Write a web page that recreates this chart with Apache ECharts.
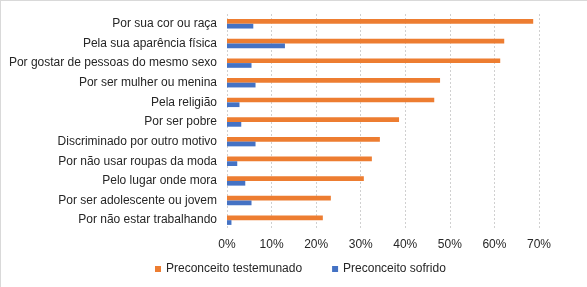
<!DOCTYPE html>
<html lang="pt">
<head>
  <meta charset="UTF-8">
  <script src="https://cdn.jsdelivr.net/npm/echarts@6.0.0/dist/echarts.min.js"></script>
  <style>
    html, body { margin: 0; padding: 0; background: #fff; }
    #chart { width: 587px; height: 287px; box-sizing: border-box; border-top: 1px solid #d9d9d9; border-left: 1px solid #d9d9d9; }
  </style>
</head>
<body>
  <div id="chart"></div>

  <script type="text/javascript">

    var categories = [
      'Por sua cor ou raça',
      'Pela sua aparência física',
      'Por gostar de pessoas do mesmo sexo',
      'Por ser mulher ou menina',
      'Pela religião',
      'Por ser pobre',
      'Discriminado por outro motivo',
      'Por não usar roupas da moda',
      'Pelo lugar onde mora',
      'Por ser adolescente ou jovem',
      'Por não estar trabalhando'
    ];
    var testemunado = [68.7, 62.2, 61.3, 47.8, 46.5, 38.6, 34.3, 32.5, 30.7, 23.3, 21.5];
    var sofrido = [5.9, 13.0, 5.5, 6.4, 2.8, 3.2, 6.4, 2.3, 4.1, 5.5, 1.0];
    var tickValues = [0, 10, 20, 30, 40, 50, 60, 70];

    var fontName = 'Liberation Sans, Arial, sans-serif';

    function createChart() {
        const chart = echarts.init(document.getElementById('chart'));

        let option = {
            animation: false,
            textStyle: { fontFamily: fontName },
            grid: {
                left: 226,
                right: 48,
                top: 13,
                bottom: 57
            },
            legend: {
                bottom: 7,
                left: 149,
                itemWidth: 6,
                itemHeight: 6,
                itemGap: 30,
                icon: 'rect',
                textStyle: { fontSize: 12, color: '#262626', fontFamily: fontName },
                data: ['Preconceito testemunado', 'Preconceito sofrido']
            },
            xAxis: {
                type: 'value',
                min: tickValues[0],
                max: tickValues[tickValues.length - 1],
                interval: 10,
                axisLine: { show: false },
                axisTick: { show: false },
                axisLabel: {
                    formatter: '{value}%',
                    fontSize: 12,
                    color: '#262626',
                    margin: 9
                },
                splitLine: {
                    show: true,
                    lineStyle: { color: '#d0d0d0', type: [2, 2] }
                }
            },
            yAxis: {
                type: 'category',
                inverse: true,
                data: categories,
                axisLine: { show: false },
                axisTick: { show: false },
                axisLabel: {
                    fontSize: 12,
                    color: '#262626',
                    margin: 10
                }
            },
            series: [
                {
                    name: 'Preconceito testemunado',
                    type: 'bar',
                    data: testemunado,
                    itemStyle: { color: '#ED7D31' },
                    barGap: '0%',
                    barCategoryGap: '52%'
                },
                {
                    name: 'Preconceito sofrido',
                    type: 'bar',
                    data: sofrido,
                    itemStyle: { color: '#4472C4' }
                }
            ]
        };

        chart.setOption(option);
    }
    createChart();
  </script>
</body>
</html>
